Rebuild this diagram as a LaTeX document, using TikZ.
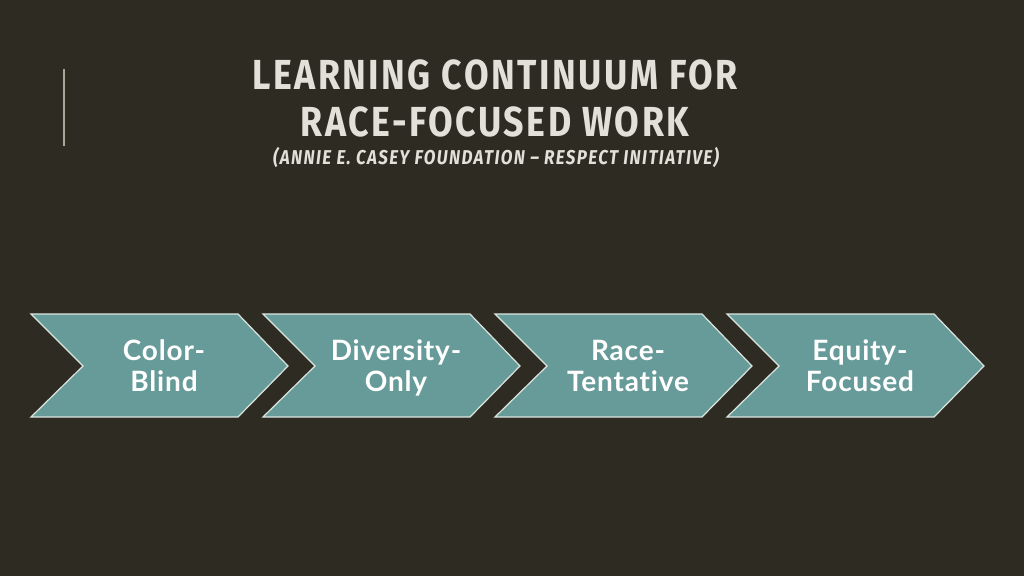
\documentclass[tikz,border=0pt]{standalone}
\usepackage{fontspec}
\setmainfont{Lato}
\newfontfamily\titlefont[FakeStretch=0.85,LetterSpace=6]{Fira Sans}
\newfontfamily\subfont[FakeStretch=0.85,LetterSpace=7]{Fira Sans}
\newfontfamily\boxfont[Ligatures={NoCommon},LetterSpace=3]{Lato}
\definecolor{bg}{HTML}{2D2B22}
\definecolor{teal}{HTML}{679B99}
\definecolor{edge}{HTML}{DDE5DF}
\definecolor{titlec}{HTML}{E2E0D8}
\definecolor{rule}{HTML}{A6A898}
\tikzset{
  chev/.style={fill=teal, draw=edge, line width=1.2pt, line join=miter},
  chevtext/.style={text=white, font=\boxfont\bfseries\fontsize{28}{31}\selectfont, align=center},
}
\begin{document}
\begin{tikzpicture}[x=1pt,y=-1pt]
\fill[bg] (0,0) rectangle (1024,576);
\useasboundingbox (0,0) rectangle (1024,576);
\draw[rule, line width=2pt] (64,69) -- (64,146);
\node[text=titlec, font=\titlefont\bfseries\fontsize{42}{47}\selectfont, align=center] (title) at (495,98) {LEARNING CONTINUUM FOR\\RACE-FOCUSED WORK};
\node[text=titlec, font=\subfont\bfseries\itshape\fontsize{20}{22}\selectfont] (sub) at (496,157) {(ANNIE E. CASEY FOUNDATION – RESPECT INITIATIVE)};
\foreach \i/\t/\n in {0/{Color-\strut\\Blind\strut}/c1, 1/{Diversity-\strut\\Only\strut}/c2, 2/{Race-\strut\\Tentative\strut}/c3, 3/{Equity-\strut\\Focused\strut}/c4}{
  \pgfmathsetmacro{\L}{31+232*\i}
  \draw[chev] (\L,314) -- (\L+207,314) -- (\L+257,366) -- (\L+207,417) -- (\L,417) -- (\L+52,366) -- cycle;
  \node[chevtext, inner sep=0pt] (\n) at (\L+133,370) {\t};
}
\end{tikzpicture}
\end{document}
